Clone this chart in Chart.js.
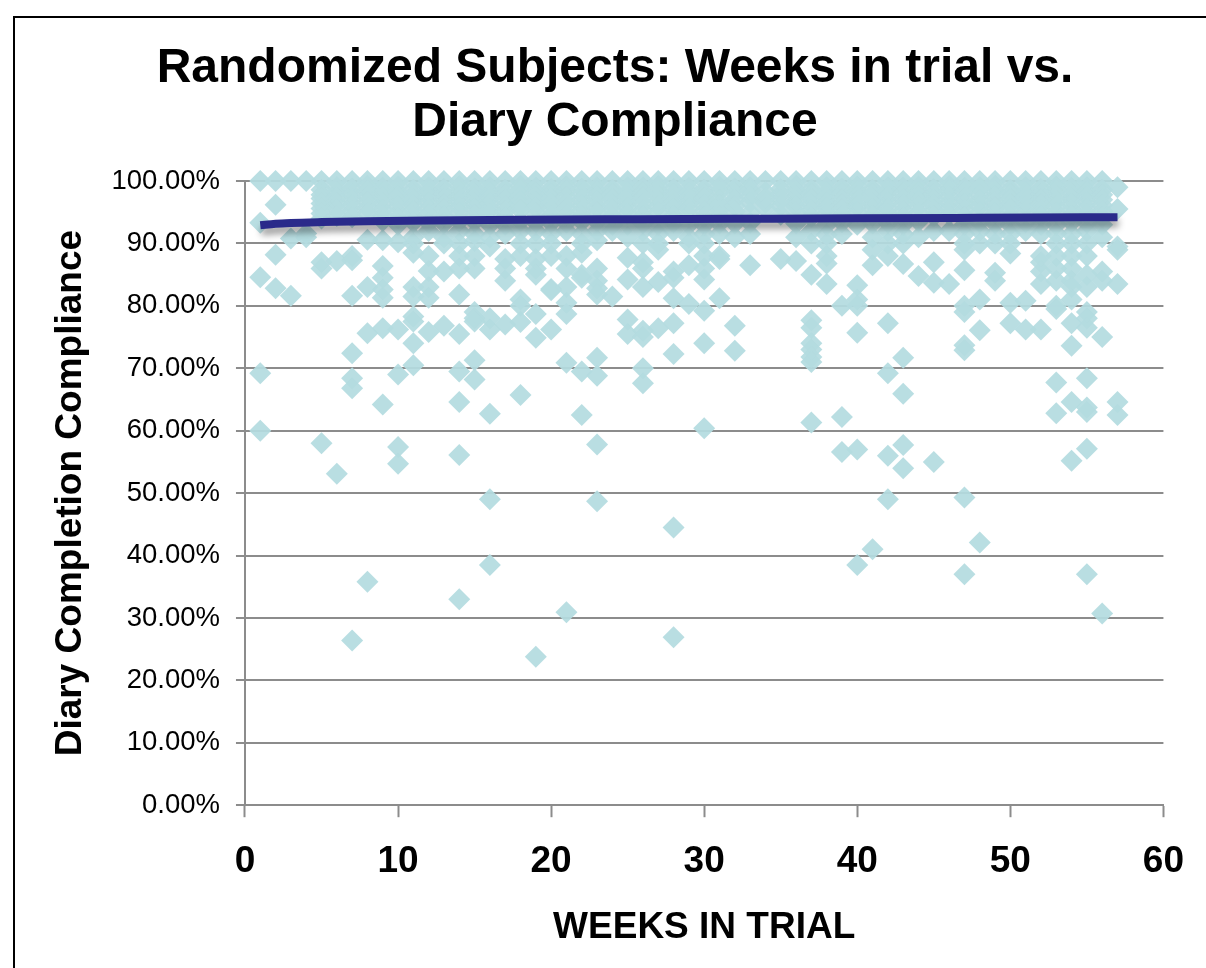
<!DOCTYPE html>
<html>
<head>
<meta charset="utf-8">
<script src="https://cdn.jsdelivr.net/npm/chart.js@4"></script>
<style>
html,body{margin:0;padding:0;width:1206px;height:968px;overflow:hidden;background:#fff}
#frame{position:absolute;left:13px;top:16px;width:1300px;height:1100px;border:2px solid #000;box-sizing:border-box}
canvas{position:absolute;left:0;top:0}
</style>
</head>
<body>
<div id="frame"></div>
<canvas id="c" width="1206" height="968"></canvas>
<script>
const chartTitle = ["Randomized Subjects: Weeks in trial vs.", "Diary Compliance"];
const xAxisTitle = "WEEKS IN TRIAL";
const yAxisTitle = "Diary Completion Compliance";

// Compliance readings (%), one list per week in trial (week 1, 2, 3 ...)
const complianceByWeek = [
/* 1*/[100,93.3,84.6,69.2,60],
/* 2*/[100,96.2,88.2,82.8],
/* 3*/[100,90.8,81.6],
/* 4*/[100,91.6,91],
/* 5*/[100,98.6,97.8,97.2,96.4,95.6,94.8,94,87,86,58],
/* 6*/[100,99,98.2,97.3,96.4,95.4,94.4,87.2,53.1],
/* 7*/[100,98.8,97.9,97,96.1,95.2,94.2,88,87.3,81.6,72.4,68.4,66.8,26.4],
/* 8*/[100,99.2,98.4,97.5,96.6,95.7,94.8,90.6,83,75.6,35.8],
/* 9*/[100,98.9,98.1,97.4,96.4,95.4,94.5,93.6,90.5,86.4,84.5,82.6,81.3,76.4,64.2],
/*10*/[100,99.1,98.2,97.5,96.8,95.9,95,94,93,90.2,76.2,69,57.4,54.7],
/*11*/[100,98.6,97.8,97,96.1,95.2,94.3,93.4,91,90,88.5,83,81.5,78.3,77.5,74,70.5],
/*12*/[100,99,98.3,97.4,96.5,95.5,94.6,93.3,92,88,85.6,83,81.3,75.8],
/*13*/[100,98.7,97.9,97.1,96.2,95.4,94.3,93.2,91,90,85.5,76.8],
/*14*/[100,99.2,98.4,97.5,96.7,95.8,94.9,93.5,92,90,88,86,81.8,75.5,69.5,64.6,56.1,33],
/*15*/[100,98.8,98,97.3,96.4,95.5,94.5,93.5,91.5,90.4,88,86,79,78,77.5,71.3,68.2],
/*16*/[100,99,98.2,97.3,96.4,95.5,94.7,93,91,89.5,78,76.2,62.7,49,38.5],
/*17*/[100,98.6,97.8,97,96,95.1,94.1,93,91.5,87.5,86,84,77],
/*18*/[100,99.2,98.5,97.6,96.8,96,95.3,93.6,92,90,88,81,80,77.4,65.7],
/*19*/[100,98.9,98.1,97.4,96.6,95.7,94.8,93.4,92,90,87.5,86,85,78.7,74.9,23.8],
/*20*/[100,98.7,98,97.2,96.4,95.5,94.4,93.3,91.6,90,88,82.7,82.5,76.2],
/*21*/[100,99.1,98.4,97.4,96.5,95.6,94.6,93.3,92,88,86,83,80.5,78.7,70.9,30.9],
/*22*/[100,98.8,97.9,97,96.1,95.2,94.3,93.5,91.5,90,88.5,85,84.5,69.5,62.5],
/*23*/[100,99,98.3,97.5,96.7,95.8,94.9,93.5,92,90.5,86,84,82.8,81.8,71.7,68.8,57.8,48.7],
/*24*/[100,98.6,97.9,97.1,96.2,95.4,94.3,93,92,81.5],
/*25*/[100,99,98.2,97.4,96.6,95.7,94.7,93,91,87.7,84.2,77.8,75.5],
/*26*/[100,98.9,98.1,97.3,96.3,95.3,94.3,93.2,92,90,87,86,83,76,75,70,67.6],
/*27*/[100,99.2,98.4,97.6,96.8,95.9,95,93,91.5,90,89,83.8,76.4],
/*28*/[100,98.7,97.9,97,96.2,95.5,94.4,93.4,92,85.5,84.5,81.2,77.2,72.3,44.5,26.9],
/*29*/[100,98.9,98.1,97.3,96.5,95.6,94.6,93,91,90,86.5,80.3],
/*30*/[100,98.6,97.9,97.2,96.2,95.2,94.2,93,91.5,90,88,86,84.2,79.2,74,60.4],
/*31*/[100,99.1,98.3,96.9,96.1,95.4,94.3,93.2,91.5,88,87.5,81.2],
/*32*/[100,98.8,98,97,96,95.1,93.2,91,76.8,72.8],
/*33*/[100,99,98.5,97.5,96.6,94.9,93.3,91.5,86.5],
/*34*/[100,98.2,97.3,96.5,95.6],
/*35*/[100,98.7,97.9,97,96,94.6,87.5],
/*36*/[100,99.2,98.4,97.6,96.8,95.9,95,93.2,91,87.2],
/*37*/[100,98.6,97.9,97.1,96.2,95.3,94.2,92,90,85,77.7,76.5,74,73,71.8,71,61.3],
/*38*/[100,99,98.2,97.4,96.5,95.7,94.8,93,91.4,90,88,86.8,83.5],
/*39*/[100,98.8,98,97,96.2,95.4,94.4,93.4,91.5,80,62.2,56.6],
/*40*/[100,99.1,98.3,97.5,96.7,95.9,95,93,83.3,81,80,75.7,57,38.5],
/*41*/[100,98.6,97.9,97.2,96.4,95.5,94.4,93.2,91,89,86.5,41],
/*42*/[100,99,98.4,97.5,96.6,95.6,94.7,93.3,92,90,88,77.2,69.2,56,49],
/*43*/[100,98.9,98,97.1,96.2,95.2,94.1,93,91.5,90,86.7,71.7,65.9,57.7,54],
/*44*/[100,99.1,98.2,97.5,96.8,95.9,94.9,93.5,91,84.8],
/*45*/[100,98.7,97.9,97,96.2,95.3,94.3,92,87,83.7,55],
/*46*/[100,99.2,98.5,97.5,96.5,95.5,94.6,92,83.5],
/*47*/[100,98.9,98.3,97.2,96.3,95.4,94.2,93,91.5,90,89,85.7,80,79,73.7,72.9,49.3,37],
/*48*/[100,99,98.8,97.8,96.9,96,95,93.4,92,90,81,76.1,42.1],
/*49*/[100,99.2,98.4,97.5,96.6,95.7,94.8,93.2,91.5,90,85.3,84],
/*50*/[100,98.6,97.9,97.1,96.3,95.5,94.3,93,91.5,90,88.4,80.5,77.2],
/*51*/[100,99,98.2,97.5,96.7,95.9,95.1,93.4,92,80.8,76.2],
/*52*/[100,98.7,97.9,97,96.2,95.3,94.3,93,91.5,88,87,85.5,83.5,76.2],
/*53*/[100,99.1,98.5,97.6,96.8,95.9,94.9,93,91.6,90,88,86,84,80,79.5,67.7,62.8],
/*54*/[100,98.9,98,97.2,96.3,95.4,94.4,93.4,91.5,90,88,86,84,83,81,77.2,73.6,64.6,55.2],
/*55*/[100,99,98.3,97.5,96.6,95.6,94.7,93.3,92,90,88,85,83,79,78,76.5,68.4,63.7,63,57.1,37],
/*56*/[100,98.6,97.8,97,96.1,95.2,94.2,93,91,85.5,84,75,30.7],
/*57*/[99,95.5,89.5,89,83.5,64.6,62.5]
];

// Trend line
const trendWeeks = [1,2,3,5,8,12,18,25,32,40,48,57];
const trendValues = [92.9,93.15,93.28,93.42,93.56,93.68,93.8,93.88,93.95,94.02,94.1,94.2];

const yTicks = [0,10,20,30,40,50,60,70,80,90,100];

const scatterPoints = complianceByWeek.flatMap((vals, i) => vals.map(v => ({x: i + 1, y: v})));
const trendPoints = trendWeeks.map((w, i) => ({x: w, y: trendValues[i]}));

const trendShadow = {
  id: 'trendShadow',
  afterLayout(chart) {
    chart.titleBlock.left += 7.5; chart.titleBlock.right += 7.5;
  },
  beforeDatasetDraw(chart, args) {
    if (args.index === 0) {
      const c = chart.ctx; c.save();
      c.shadowColor = 'rgba(0,0,0,0.4)'; c.shadowBlur = 7; c.shadowOffsetX = 1; c.shadowOffsetY = 6;
    }
  },
  afterDatasetDraw(chart, args) {
    if (args.index === 0) chart.ctx.restore();
  }
};

new Chart(document.getElementById('c'), {
  type: 'scatter',
  data: { datasets: [
    { label: 'Trend', data: trendPoints, showLine: true, pointRadius: 0, borderColor: '#2a2a8a',
      borderWidth: 8, tension: 0.4, cubicInterpolationMode: 'monotone', borderCapStyle: 'butt', order: 0, clip: false },
    { label: 'Compliance', data: scatterPoints, pointStyle: 'rectRot', pointRadius: 11,
      backgroundColor: 'rgba(180,220,224,0.93)', borderWidth: 0, order: 1, clip: false }
  ]},
  plugins: [trendShadow],
  options: {
    responsive: false, animation: false, devicePixelRatio: 1,
    layout: { padding: { left: 49, right: 40, top: 42, bottom: 18 } },
    plugins: {
      legend: { display: false }, tooltip: { enabled: false },
      title: { display: true, text: chartTitle, color: '#000', padding: { top: 0, bottom: 31 },
        font: { family: '"Liberation Sans"', size: 48, weight: 'bold', lineHeight: 1.125 } }
    },
    scales: {
      x: { type: 'linear', min: 0, max: 60,
        border: { color: '#8c8c8c', width: 2 },
        grid: { drawOnChartArea: false, drawTicks: true, tickLength: 12, tickColor: '#8c8c8c', tickWidth: 2 },
        ticks: { stepSize: 10, color: '#000', padding: 22, maxRotation: 0, font: { family: '"Liberation Sans"', size: 37, weight: 'bold' } },
        title: { display: true, text: xAxisTitle, color: '#000', padding: { top: 0, bottom: 0 }, font: { family: '"Liberation Sans"', size: 37, weight: 'bold' } }
      },
      y: { min: 0, max: 100,
        afterBuildTicks(s) { s.ticks = yTicks.map(v => ({value: v})); },
        border: { color: '#8c8c8c', width: 2 },
        grid: { color: '#8c8c8c', lineWidth: 2, drawTicks: true, tickLength: 9, tickColor: '#8c8c8c', tickWidth: 2 },
        ticks: { color: '#000', padding: 16, font: { family: '"Liberation Sans"', size: 27.5 }, callback: v => v.toFixed(2) + '%' },
        title: { display: true, text: yAxisTitle, color: '#000', padding: { top: 0, bottom: 2 }, font: { family: '"Liberation Sans"', size: 37, weight: 'bold' } }
      }
    }
  }
});
</script>
</body>
</html>
